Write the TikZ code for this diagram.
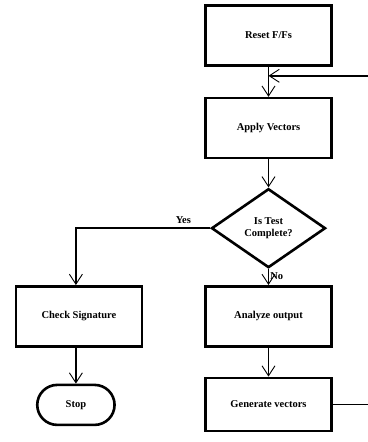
\documentclass[tikz,border=0pt]{standalone}
\usepackage{fontspec}
\setmainfont{Liberation Serif}
\usepackage{tikz}
\usetikzlibrary{positioning,shapes.geometric,shapes.misc,arrows.meta}

\begin{document}
\begin{tikzpicture}[x=1pt,y=1pt,
    font=\fontsize{10.5}{11.5}\selectfont\bfseries,
    block/.style={draw, line width=2.6pt, minimum width=126pt, minimum height=60pt},
    decision/.style={draw, diamond, line width=2.6pt, minimum width=114pt, minimum height=79pt, inner sep=0pt, align=center},
    terminal/.style={draw, rounded rectangle, line width=2.6pt, minimum width=84pt, minimum height=40pt},
    flow/.style={line width=1.8pt, -{Straight Barb[length=10pt,width=13pt,line width=0.9pt]}}]

\useasboundingbox (0,0) rectangle (367,-442);

\node [block] (reset) at (268.5,-35.5) {Reset F/Fs};
\node [block, below=30pt of reset] (apply) {Apply Vectors};
\node [decision, below=28pt of apply] (test) {Is Test\\Complete?};
\node [block, below=16pt of test] (analyze) {Analyze output};
\node [block, below=29pt of analyze, minimum height=53pt] (generate) {Generate vectors};
\node [block, left=61pt of analyze] (check) {Check Signature};
\node [terminal, below=36pt of check, xshift=-3pt] (stop) {Stop};

\coordinate (join) at ([yshift=-9pt]reset.south);

\draw [flow] (reset) -- (apply);
\draw [flow] (apply) -- (test);
\draw [flow] (test) -- node [right, pos=0.45, inner sep=1pt] {No} (analyze);
\draw [flow] (analyze) -- (generate);
\draw [flow] (test.west) -| node [above, pos=0.1] {Yes} (stop.north |- check.north);
\draw [flow] (check.south -| stop.north) -- (stop.north);
\draw [flow] (generate.east) -- ++(40pt,0) |- (join);

\end{tikzpicture}
\end{document}
